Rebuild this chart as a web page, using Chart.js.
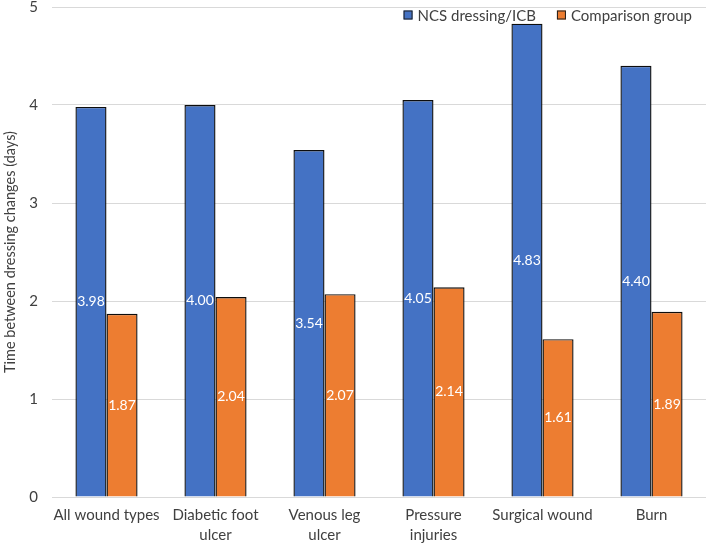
<!DOCTYPE html>
<html>
<head>
<meta charset="utf-8">
<script src="https://cdn.jsdelivr.net/npm/chart.js@4/dist/chart.umd.min.js"></script>
<style>
  html, body { margin: 0; padding: 0; background: #fff; }
  #wrap { width: 709px; height: 543px; }
</style>
</head>
<body>
<div id="wrap"><canvas id="dressing-chart"></canvas></div>
<script>
const categories = [
  "All wound types",
  ["Diabetic foot", "ulcer"],
  ["Venous leg", "ulcer"],
  ["Pressure", "injuries"],
  "Surgical wound",
  "Burn",
];
const ncsValues = [3.98, 4.0, 3.54, 4.05, 4.83, 4.4];
const comparisonValues = [1.87, 2.04, 2.07, 2.14, 1.61, 1.89];
const yTicks = [0, 1, 2, 3, 4, 5];

const FONT = "Lato, 'Open Sans', sans-serif";
const TEXT = "#404040";

// White value labels in the middle of each bar
const barValueLabels = {
  id: "barValueLabels",
  afterDatasetsDraw(chart) {
    const ctx = chart.ctx;
    ctx.save();
    ctx.fillStyle = "#ffffff";
    ctx.font = "14px " + FONT;
    ctx.textAlign = "center";
    ctx.textBaseline = "middle";
    chart.data.datasets.forEach((dataset, i) => {
      chart.getDatasetMeta(i).data.forEach((bar, j) => {
        const mid = (bar.y + bar.base) / 2;
        ctx.fillText(dataset.data[j].toFixed(2), bar.x, mid);
      });
    });
    ctx.restore();
  },
};

// Legend drawn inside the plot, top right
const insideLegend = {
  id: "insideLegend",
  afterDraw(chart) {
    const ctx = chart.ctx;
    const datasets = chart.data.datasets;
    ctx.save();
    ctx.font = "15px " + FONT;
    ctx.textBaseline = "middle";
    ctx.textAlign = "left";
    const box = 9, gap = 5, spacing = 21, y = 15;
    const widths = datasets.map((ds) => ctx.measureText(ds.label).width);
    let total = widths.reduce((a, w) => a + box + gap + w, 0) + spacing * (datasets.length - 1);
    let x = 692 - total;
    datasets.forEach((ds, i) => {
      ctx.fillStyle = ds.backgroundColor;
      ctx.fillRect(x, y - box / 2, box, box);
      ctx.strokeStyle = "#1e1e1e";
      ctx.lineWidth = 1;
      ctx.strokeRect(x + 0.5, y - box / 2 + 0.5, box - 1, box - 1);
      ctx.fillStyle = TEXT;
      ctx.fillText(ds.label, x + box + gap, y + 1);
      x += box + gap + widths[i] + spacing;
    });
    ctx.restore();
  },
};

const ctx = document.getElementById("dressing-chart").getContext("2d");
new Chart(ctx, {
  type: "bar",
  data: {
    labels: categories,
    datasets: [
      {
        label: "NCS dressing/ICB",
        data: ncsValues,
        backgroundColor: "#4472C4",
        borderColor: "#0d0d0d",
        borderWidth: 1.4,
        barPercentage: 1,
        categoryPercentage: 0.57,
      },
      {
        label: "Comparison group",
        data: comparisonValues,
        backgroundColor: "#ED7D31",
        borderColor: "#0d0d0d",
        borderWidth: 1.4,
        barPercentage: 1,
        categoryPercentage: 0.57,
      },
    ],
  },
  options: {
    responsive: true,
    maintainAspectRatio: false,
    animation: false,
    layout: { padding: { top: 0, right: 3, left: 0, bottom: 0 } },
    plugins: {
      tooltip: { enabled: false },
      legend: { display: false },
    },
    scales: {
      x: {
        grid: { display: false },
        border: { display: false },
        ticks: {
          color: TEXT,
          font: { family: FONT, size: 15, lineHeight: 1.35 },
          padding: 0,
          maxRotation: 0,
          autoSkip: false,
        },
        afterFit: (scale) => { scale.height = 46; },
      },
      y: {
        min: 0,
        max: 5,
        afterBuildTicks: (scale) => {
          scale.ticks = yTicks.map((v) => ({ value: v }));
        },
        grid: { color: "#d9d9d9", drawTicks: false },
        border: { display: false },
        ticks: {
          color: TEXT,
          font: { family: FONT, size: 15 },
          padding: 14,
        },
        title: {
          display: true,
          text: "Time between dressing changes (days)",
          color: TEXT,
          font: { family: FONT, size: 14.5 },
          padding: { top: 2, bottom: 2 },
        },
        afterFit: (scale) => {
          scale.width = 52;
          scale.paddingTop = 7;
          scale.paddingBottom = 7;
        },
      },
    },
  },
  plugins: [barValueLabels, insideLegend],
});
</script>
</body>
</html>
